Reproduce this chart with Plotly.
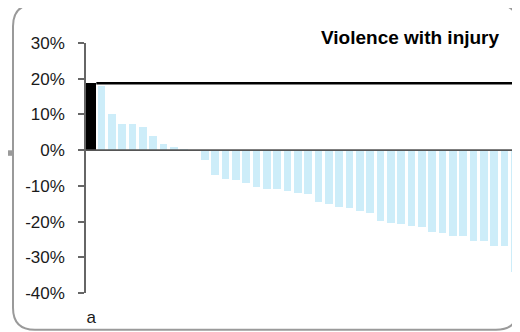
import plotly.graph_objects as go

# ---- data ----
reference_label = "a"
reference_value = 0.187
other_values = [17.9, 10.0, 7.3, 7.3, 6.6, 3.9, 1.7, 1.0, 0.4, 0.0,
                -2.8, -6.9, -8.0, -8.3, -9.1, -10.4, -10.8, -10.8, -11.5, -11.9,
                -12.4, -14.6, -15.0, -15.9, -16.3, -17.1, -17.6, -19.8, -20.4, -20.6,
                -21.3, -21.5, -22.8, -23.2, -23.9, -24.0, -25.4, -25.4, -26.7, -26.9,
                -34.1]
y_tick_values = [-0.4, -0.3, -0.2, -0.1, 0.0, 0.1, 0.2, 0.3]
y_tick_labels = ["-40%", "-30%", "-20%", "-10%", "0%", "10%", "20%", "30%"]
title_text = "Violence with injury"

# ---- layout geometry (page pixels; the page body adds an 8px offset) ----
OFF = 8
W, H = 520 - OFF, 332 - OFF
L, T = 86 - OFF, 42.7 - OFF
PW = 434
PH = 250
R = W - L - PW
B = H - T - PH

def px(x):
    return (x - OFF - L) / PW

def py(y):
    return (T + PH - (y - OFF)) / PH

n = 1 + len(other_values)
xs = list(range(n))
vals = [reference_value] + [v / 100 for v in other_values]
colors = ["#000000"] + ["#cdedf9"] * len(other_values)
widths = [0.97] + [0.77] * len(other_values)

font = "Liberation Sans, Arial, sans-serif"

fig = go.Figure()
fig.add_trace(go.Bar(x=xs, y=vals, width=widths,
                     marker=dict(color=colors, line=dict(width=0)),
                     showlegend=False, hoverinfo="skip", cliponaxis=False))
# reference line at the level of the reference bar
fig.add_trace(go.Scatter(x=[0.5, n - 1 + 0.1], y=[reference_value, reference_value],
                         mode="lines", line=dict(color="#000000", width=2.5),
                         showlegend=False, hoverinfo="skip"))

# card border with rounded corners
x0, x1, y0, y1, r = 13, 518, 4, 329.5, 22
path = (f"M {px(x0+r)},{py(y0)} L {px(x1-r)},{py(y0)} Q {px(x1)},{py(y0)} {px(x1)},{py(y0+r)} "
        f"L {px(x1)},{py(y1-r)} Q {px(x1)},{py(y1)} {px(x1-r)},{py(y1)} "
        f"L {px(x0+r)},{py(y1)} Q {px(x0)},{py(y1)} {px(x0)},{py(y1-r)} "
        f"L {px(x0)},{py(y0+r)} Q {px(x0)},{py(y0)} {px(x0+r)},{py(y0)} Z")
shapes = [
    dict(type="path", xref="paper", yref="paper", path=path,
         line=dict(color="#9a9a9a", width=2), layer="below"),
    dict(type="rect", xref="paper", yref="paper", x0=px(0), x1=px(12), y0=py(150), y1=py(155.5),
         fillcolor="#9a9a9a", line=dict(width=0), layer="below"),
    # zero baseline drawn above the bars
    dict(type="line", xref="paper", yref="y", x0=0, x1=1, y0=0, y1=0,
         line=dict(color="#555555", width=1.6), layer="above"),
]

fig.update_layout(
    width=W, height=H,
    margin=dict(l=L, r=R, t=T, b=B, pad=0),
    paper_bgcolor="white", plot_bgcolor="rgba(0,0,0,0)",
    font=dict(family=font, size=17, color="#1a1a1a"),
    bargap=0,
    shapes=shapes,
    annotations=[dict(text=f"<b>{title_text}</b>", xref="paper", yref="paper",
                      x=px(502), y=py(37.5), xanchor="right", yanchor="middle",
                      showarrow=False, font=dict(family=font, size=19, color="#000000"))],
    xaxis=dict(range=[-0.5, n - 0.5], tickvals=[0], ticktext=[reference_label],
               showgrid=False, zeroline=False, showline=False, ticks="",
               tickfont=dict(size=17), ticklabelstandoff=12, fixedrange=True),
    yaxis=dict(range=[-0.4, 0.3], tickvals=y_tick_values, ticktext=y_tick_labels,
               showgrid=False, zeroline=False,
               showline=True, linecolor="#666666", linewidth=1.5,
               ticks="outside", ticklen=6, tickcolor="#666666", tickwidth=1.5,
               ticklabelstandoff=10, tickfont=dict(size=17), fixedrange=True),
)

fig.write_html("out.html")
